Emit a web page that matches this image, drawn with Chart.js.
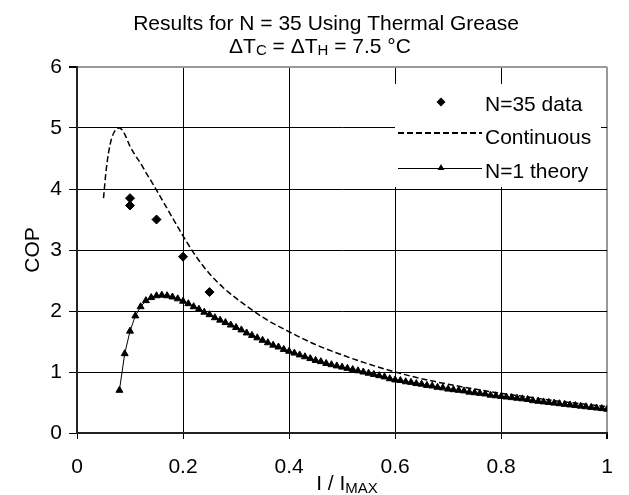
<!DOCTYPE html>
<html>
<head>
<meta charset="utf-8">
<script src="https://cdn.jsdelivr.net/npm/chart.js@4.4.0/dist/chart.umd.min.js"></script>
<style>
  html, body { margin: 0; padding: 0; background: #fff; }
  #wrap { width: 629px; height: 495px; }
</style>
</head>
<body>
<div id="wrap"><canvas id="copCanvas" width="629" height="495"></canvas></div>
<script>
// tick labels
const xTickVals = [0, 0.2, 0.4, 0.6, 0.8, 1];
const xTickLabels = ['0', '0.2', '0.4', '0.6', '0.8', '1'];
const yTickVals = [0, 1, 2, 3, 4, 5, 6];
const yTickLabels = ['0', '1', '2', '3', '4', '5', '6'];

// N=35 measured points
const dataX = [0.10, 0.10, 0.15, 0.20, 0.25];
const dataCOP = [3.85, 3.73, 3.50, 2.89, 2.31];

// continuous model (dashed)
const contX = [0.05, 0.055, 0.06, 0.065, 0.07, 0.075, 0.08, 0.085, 0.09, 0.10,
               0.11, 0.12, 0.13, 0.14, 0.15, 0.16, 0.17, 0.18, 0.19, 0.20,
               0.225, 0.25, 0.275, 0.30, 0.35, 0.40, 0.45, 0.50, 0.55, 0.60,
               0.65, 0.70, 0.75, 0.80, 0.85, 0.90, 0.95, 1.00];
const contCOP = [3.85, 4.31, 4.62, 4.82, 4.93, 4.99, 5.00, 4.97, 4.90, 4.70,
                 4.55, 4.42, 4.27, 4.13, 3.98, 3.83, 3.68, 3.53, 3.38, 3.23,
                 2.89, 2.61, 2.39, 2.21, 1.90, 1.66, 1.45, 1.28, 1.13, 1.00,
                 0.89, 0.80, 0.72, 0.65, 0.59, 0.53, 0.48, 0.43];

// N=1 theory (triangles)
const theoryX = [0.08, 0.09, 0.10, 0.11, 0.12, 0.13, 0.14, 0.15, 0.16, 0.17,
                 0.18, 0.19, 0.20, 0.21, 0.22, 0.23, 0.24, 0.25, 0.26, 0.27,
                 0.28, 0.29, 0.30, 0.31, 0.32, 0.33, 0.34, 0.35, 0.36, 0.37,
                 0.38, 0.39, 0.40, 0.41, 0.42, 0.43, 0.44, 0.45, 0.46, 0.47,
                 0.48, 0.49, 0.50, 0.51, 0.52, 0.53, 0.54, 0.55, 0.56, 0.57,
                 0.58, 0.59, 0.60, 0.61, 0.62, 0.63, 0.64, 0.65, 0.66, 0.67,
                 0.68, 0.69, 0.70, 0.71, 0.72, 0.73, 0.74, 0.75, 0.76, 0.77,
                 0.78, 0.79, 0.80, 0.81, 0.82, 0.83, 0.84, 0.85, 0.86, 0.87,
                 0.88, 0.89, 0.90, 0.91, 0.92, 0.93, 0.94, 0.95, 0.96, 0.97,
                 0.98, 0.99, 1.00];
const theoryCOP = [0.70, 1.30, 1.67, 1.92, 2.07, 2.17, 2.22, 2.25, 2.26, 2.25,
                   2.23, 2.20, 2.16, 2.12, 2.07, 2.03, 1.98, 1.94, 1.89, 1.85,
                   1.81, 1.77, 1.73, 1.69, 1.64, 1.60, 1.56, 1.52, 1.48, 1.44,
                   1.41, 1.37, 1.34, 1.31, 1.28, 1.25, 1.22, 1.19, 1.17, 1.14,
                   1.12, 1.10, 1.08, 1.06, 1.04, 1.02, 1.00, 0.98, 0.96, 0.94,
                   0.92, 0.89, 0.87, 0.86, 0.84, 0.83, 0.81, 0.80, 0.78, 0.77,
                   0.75, 0.74, 0.72, 0.71, 0.70, 0.69, 0.67, 0.66, 0.65, 0.64,
                   0.62, 0.61, 0.60, 0.59, 0.58, 0.57, 0.56, 0.55, 0.53, 0.52,
                   0.51, 0.50, 0.49, 0.48, 0.47, 0.46, 0.45, 0.44, 0.43, 0.42,
                   0.41, 0.40, 0.39];

const FONT = '"Liberation Sans", Arial, sans-serif';

function toPoints(xs, ys) {
    return xs.map((x, i) => ({ x: x, y: ys[i] }));
}

// text with subscripts, centred on cx
function drawRich(ctx, parts, cx, baseY, size, subSize, subDrop) {
    let total = 0;
    parts.forEach(p => {
        ctx.font = (p.sub ? subSize : size) + 'px ' + FONT;
        p.w = ctx.measureText(p.t).width;
        total += p.w;
    });
    let x = cx - total / 2;
    ctx.textAlign = 'left';
    ctx.textBaseline = 'alphabetic';
    parts.forEach(p => {
        ctx.font = (p.sub ? subSize : size) + 'px ' + FONT;
        ctx.fillText(p.t, x, baseY + (p.sub ? subDrop : 0));
        x += p.w;
    });
}

function diamond(ctx, x, y, r) {
    ctx.beginPath();
    ctx.moveTo(x, y - r);
    ctx.lineTo(x + r, y);
    ctx.lineTo(x, y + r);
    ctx.lineTo(x - r, y);
    ctx.closePath();
    ctx.fill();
}

function triangle(ctx, x, y, r) {
    ctx.beginPath();
    ctx.moveTo(x, y - r);
    ctx.lineTo(x + r * 0.866, y + r * 0.5);
    ctx.lineTo(x - r * 0.866, y + r * 0.5);
    ctx.closePath();
    ctx.fill();
}

const textPlugin = {
    id: 'textPlugin',
    afterDatasetsDraw(chart) {
        const ctx = chart.ctx;
        ctx.save();
        ctx.fillStyle = '#000';

        // titles
        drawRich(ctx, [{ t: 'Results for N = 35 Using Thermal Grease' }], 326, 30, 21, 21, 0);
        drawRich(ctx, [
            { t: '\u0394T' }, { t: 'C', sub: true },
            { t: ' = \u0394T' }, { t: 'H', sub: true },
            { t: ' = 7.5 \u00B0C' }
        ], 320, 53, 21, 15, 2);

        // axis titles
        drawRich(ctx, [{ t: 'I / I' }, { t: 'MAX', sub: true }], 347, 490, 21, 15, 3);
        ctx.save();
        ctx.translate(39, 250);
        ctx.rotate(-Math.PI / 2);
        drawRich(ctx, [{ t: 'COP' }], 0, 0, 21, 21, 0);
        ctx.restore();

        // legend box
        ctx.fillStyle = '#fff';
        ctx.fillRect(395, 84, 206, 103);
        ctx.fillStyle = '#000';
        ctx.strokeStyle = '#000';

        diamond(ctx, 441, 102, 4.5);

        ctx.lineWidth = 2;
        ctx.setLineDash([6, 3]);
        ctx.beginPath();
        ctx.moveTo(398, 133);
        ctx.lineTo(482, 133);
        ctx.stroke();
        ctx.setLineDash([]);

        ctx.lineWidth = 1;
        ctx.beginPath();
        ctx.moveTo(398, 168.5);
        ctx.lineTo(482, 168.5);
        ctx.stroke();
        triangle(ctx, 441, 168, 4);

        ctx.font = '21px ' + FONT;
        ctx.textAlign = 'left';
        ctx.textBaseline = 'alphabetic';
        ctx.fillText('N=35 data', 485, 111);
        ctx.fillText('Continuous', 485, 144);
        ctx.fillText('N=1 theory', 485, 178);
        ctx.restore();
    }
};

const ctx = document.getElementById('copCanvas').getContext('2d');
const chart = new Chart(ctx, {
    type: 'scatter',
    data: {
        datasets: [{
            label: 'N=35 data',
            data: toPoints(dataX, dataCOP),
            pointStyle: 'rectRot',
            pointRadius: 4.5,
            backgroundColor: '#000',
            borderColor: '#000',
            borderWidth: 1,
            showLine: false
        }, {
            label: 'Continuous',
            data: toPoints(contX, contCOP),
            showLine: true,
            pointRadius: 0,
            borderColor: '#000',
            borderWidth: 1.5,
            borderDash: [6, 3],
            cubicInterpolationMode: 'monotone'
        }, {
            label: 'N=1 theory',
            data: toPoints(theoryX, theoryCOP),
            showLine: true,
            pointStyle: 'triangle',
            pointRadius: 4,
            pointBorderWidth: 1,
            backgroundColor: '#000',
            borderColor: '#000',
            borderWidth: 1
        }]
    },
    options: {
        responsive: false,
        animation: false,
        devicePixelRatio: 1,
        layout: { padding: { top: 67, right: 12, left: 0, bottom: 0 } },
        plugins: {
            legend: { display: false },
            title: { display: false },
            tooltip: { enabled: false }
        },
        scales: {
            x: {
                type: 'linear',
                min: 0,
                max: 1,
                afterBuildTicks: s => { s.ticks = xTickVals.map(v => ({ value: v })); },
                afterFit: s => { s.height = 62; },
                grid: {
                    color: c => c.tick && c.tick.value === 1 ? '#999' : (c.tick && c.tick.value === 0 ? 'rgba(0,0,0,0)' : '#000'),
                    lineWidth: c => c.tick && c.tick.value === 1 ? 2 : 1,
                    tickColor: '#000',
                    tickLength: 6
                },
                border: { color: '#222', width: 2 },
                ticks: {
                    font: { family: FONT, size: 21 },
                    color: '#000',
                    padding: 16,
                    maxRotation: 0,
                    autoSkip: false,
                    callback: (v, i) => xTickLabels[i]
                }
            },
            y: {
                min: 0,
                max: 6,
                afterBuildTicks: s => { s.ticks = yTickVals.map(v => ({ value: v })); },
                afterFit: s => { s.width = 77; },
                grid: {
                    color: c => c.tick && c.tick.value === 6 ? '#999' : (c.tick && c.tick.value === 0 ? 'rgba(0,0,0,0)' : '#000'),
                    lineWidth: c => c.tick && c.tick.value === 6 ? 2 : 1,
                    tickColor: '#000',
                    tickLength: 8
                },
                border: { color: '#222', width: 2 },
                ticks: {
                    font: { family: FONT, size: 21 },
                    color: '#000',
                    padding: 7,
                    callback: (v, i) => yTickLabels[i]
                }
            }
        }
    },
    plugins: [textPlugin]
});
</script>
</body>
</html>
